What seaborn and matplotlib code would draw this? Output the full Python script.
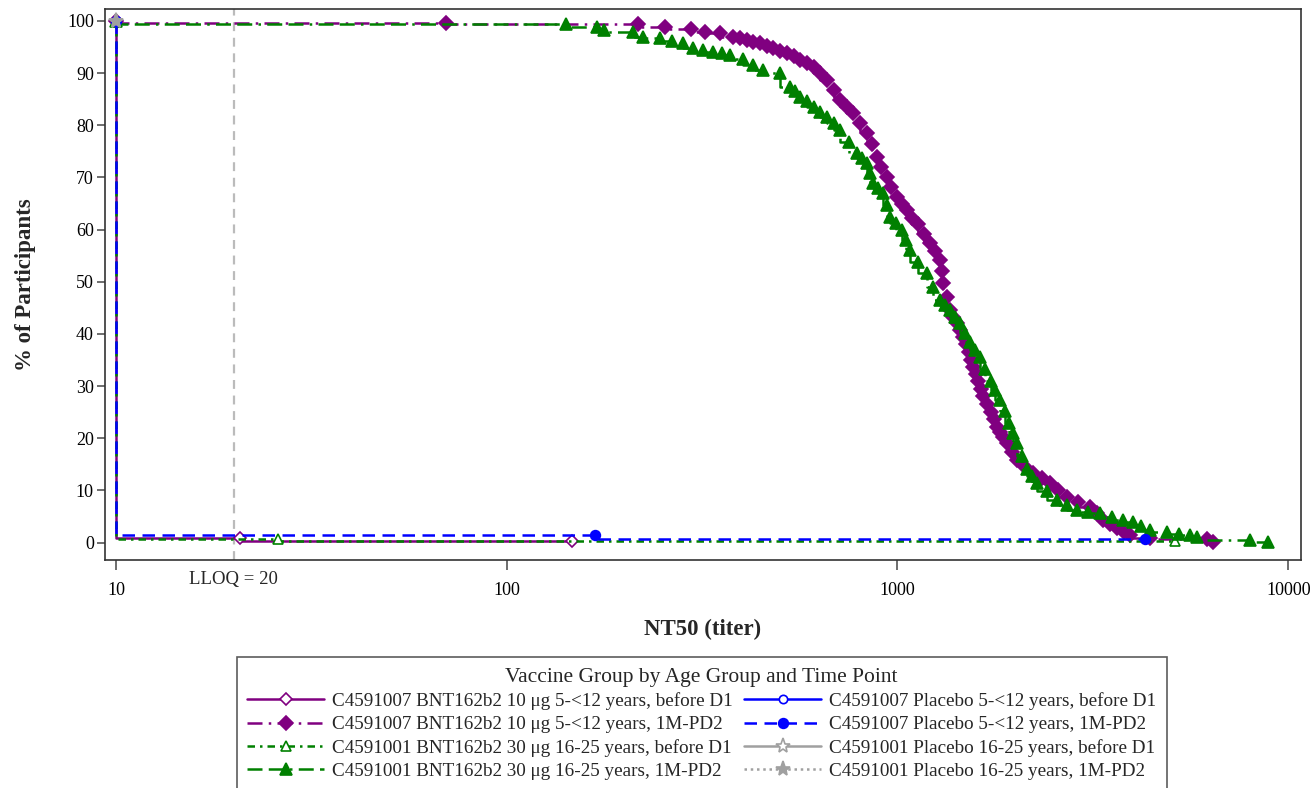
import matplotlib
matplotlib.use("Agg")
import matplotlib.pyplot as plt
import numpy as np
import pandas as pd
import seaborn as sns

# Reverse cumulative distribution of NT50 titers, by vaccine group / age group / time point

# C4591007 BNT162b2 10 ug 5-<12 years, before D1
ped_vax_pre_titer = [10, 20.8, 147]
ped_vax_pre_pct = [100, 0.8, 0.3]

# C4591007 BNT162b2 10 ug 5-<12 years, 1M-PD2
ped_vax_pd2_titer = [10, 70, 217, 254, 297, 322, 352, 380, 395, 411, 428, 445, 463,
                     481, 500, 521, 542, 564, 587, 610, 635, 660, 686, 713, 742, 771,
                     800, 834, 860, 885, 910, 939, 965, 995, 1025, 1057, 1090, 1130,
                     1170, 1211, 1250, 1285, 1298, 1310, 1335, 1364, 1390, 1420, 1448,
                     1475, 1498, 1520, 1542, 1564, 1588, 1610, 1635, 1660, 1695, 1730,
                     1765, 1796, 1830, 1860, 1905, 1960, 2020, 2120, 2223, 2340, 2459,
                     2580, 2711, 2900, 3112, 3240, 3358, 3500, 3640, 3790, 3939, 4430,
                     6190, 6430]
ped_vax_pd2_pct = [100, 99.6, 99.4, 98.9, 98.4, 97.9, 97.6, 97.0, 96.7, 96.4, 96.0,
                   95.7, 95.2, 94.8, 94.3, 93.8, 93.2, 92.5, 91.9, 91.2, 90.0, 88.7,
                   86.8, 84.9, 83.6, 82.3, 80.5, 78.5, 76.5, 74.0, 72.0, 70.1, 68.2,
                   66.3, 65.0, 63.7, 62.3, 61.0, 59.2, 57.4, 55.8, 54.2, 52.0, 49.7,
                   47.0, 44.6, 43.3, 42.0, 40.7, 39.5, 38.0, 36.5, 35.0, 33.7, 32.3,
                   31.0, 29.5, 28.0, 26.5, 25.0, 23.6, 22.2, 21.2, 20.3, 19.0, 17.4,
                   15.8, 14.5, 13.3, 12.3, 11.4, 10.1, 8.8, 7.8, 6.9, 5.6, 4.3, 3.5,
                   2.7, 2.0, 1.4, 0.8, 0.6, 0.15]

# C4591001 BNT162b2 30 ug 16-25 years, before D1
ya_vax_pre_titer = [10, 26, 5130]
ya_vax_pre_pct = [100, 0.7, 0.35]

# C4591001 BNT162b2 30 ug 16-25 years, 1M-PD2
ya_vax_pd2_titer = [10, 142, 170, 177, 211, 223, 247, 265, 283, 300, 318, 337, 355,
                    373, 403, 428, 454, 501, 531, 548, 564, 587, 610, 635, 660, 686,
                    713, 750, 787, 810, 834, 850, 868, 893, 919, 938, 957, 990, 1024,
                    1050, 1077, 1130, 1188, 1235, 1285, 1320, 1360, 1400, 1445, 1485,
                    1530, 1578, 1626, 1678, 1730, 1780, 1832, 1880, 1930, 1975, 2020,
                    2085, 2150, 2210, 2274, 2410, 2560, 2720, 2879, 3080, 3304, 3530,
                    3780, 4010, 4210, 4430, 4890, 5240, 5610, 5840, 7980, 8890]
ya_vax_pd2_pct = [100, 99.4, 98.9, 98.3, 97.9, 97.0, 96.7, 96.2, 95.7, 94.8, 94.5,
                  94.1, 93.8, 93.5, 92.8, 91.6, 90.6, 90.0, 87.4, 86.5, 85.5, 84.6,
                  83.6, 82.6, 81.6, 80.4, 79.1, 76.8, 74.6, 73.7, 72.7, 70.8, 68.9,
                  68.0, 67.0, 64.8, 62.5, 61.2, 60.0, 58.0, 56.1, 53.8, 51.6, 49.0,
                  46.5, 45.5, 44.5, 43.2, 42.0, 40.2, 38.5, 37.0, 35.6, 33.3, 31.0,
                  29.2, 27.3, 25.2, 23.0, 21.0, 19.0, 16.5, 14.0, 12.7, 11.4, 9.8,
                  8.2, 7.2, 6.2, 5.9, 5.6, 4.9, 4.3, 4.0, 3.2, 2.4, 2.1, 1.7, 1.4,
                  1.1, 0.5, 0.15]

# C4591007 Placebo 5-<12 years
ped_pbo_pre_titer = [10]
ped_pbo_pre_pct = [100]
ped_pbo_pd2_titer = [10, 168, 4300]
ped_pbo_pd2_pct = [100, 1.5, 0.7]

# C4591001 Placebo 16-25 years
ya_pbo_pre_titer = [10]
ya_pbo_pre_pct = [100]
ya_pbo_pd2_titer = [10]
ya_pbo_pd2_pct = [100]

labels = [
    "C4591007 BNT162b2 10 \u03bcg 5-<12 years, before D1",
    "C4591007 BNT162b2 10 \u03bcg 5-<12 years, 1M-PD2",
    "C4591001 BNT162b2 30 \u03bcg 16-25 years, before D1",
    "C4591001 BNT162b2 30 \u03bcg 16-25 years, 1M-PD2",
    "C4591007 Placebo 5-<12 years, before D1",
    "C4591007 Placebo 5-<12 years, 1M-PD2",
    "C4591001 Placebo 16-25 years, before D1",
    "C4591001 Placebo 16-25 years, 1M-PD2",
]
series = [
    (ped_vax_pre_titer, ped_vax_pre_pct),
    (ped_vax_pd2_titer, ped_vax_pd2_pct),
    (ya_vax_pre_titer, ya_vax_pre_pct),
    (ya_vax_pd2_titer, ya_vax_pd2_pct),
    (ped_pbo_pre_titer, ped_pbo_pre_pct),
    (ped_pbo_pd2_titer, ped_pbo_pd2_pct),
    (ya_pbo_pre_titer, ya_pbo_pre_pct),
    (ya_pbo_pd2_titer, ya_pbo_pd2_pct),
]
lloq = 20
x_ticks = [10, 100, 1000, 10000]
y_ticks = list(range(0, 101, 10))

PURPLE, GREEN, BLUE, GRAY = "#800080", "#008000", "#0000FF", "#A0A0A0"
styles = [
    dict(color=PURPLE, ls="-", marker="D", ms=6.5, mfc="white"),
    dict(color=PURPLE, ls=(0, (6, 2.5, 1, 2.5)), marker="D", ms=7.5, mfc=PURPLE),
    dict(color=GREEN, ls=(0, (3, 2, 1, 2)), marker="^", ms=7.5, mfc="white"),
    dict(color=GREEN, ls=(0, (6, 2.5, 6, 2.5, 1, 2.5)), marker="^", ms=8, mfc=GREEN),
    dict(color=BLUE, ls="-", marker="o", ms=6, mfc="white"),
    dict(color=BLUE, ls=(0, (5, 3)), marker="o", ms=7, mfc=BLUE),
    dict(color=GRAY, ls="-", marker="*", ms=11, mfc="white"),
    dict(color=GRAY, ls=(0, (1, 1.5)), marker="*", ms=11, mfc=GRAY),
]

sns.set_style("ticks")
plt.rcParams["font.family"] = ["Liberation Serif", "DejaVu Serif"]

fig = plt.figure(figsize=(13.14, 7.88), dpi=100)
ax = fig.add_axes([0.0799, 0.2893, 0.9103, 0.6993])

ax.axvline(lloq, color="#BBBBBB", lw=1.6, ls=(0, (4, 3)), zorder=0.5)

handles = []
for (tx, py), lab, st in zip(series, labels, styles):
    df = pd.DataFrame({"titer": tx, "pct": py})
    sns.lineplot(data=df, x="titer", y="pct", ax=ax, estimator=None, sort=False,
                 drawstyle="steps-pre", color=st["color"], linestyle=st["ls"],
                 linewidth=1.8, marker=st["marker"], markersize=st["ms"],
                 markerfacecolor=st["mfc"], markeredgecolor=st["color"],
                 markeredgewidth=1.2, legend=False)
    line = ax.lines[-1]
    line.set_label(lab)
    handles.append(line)

ax.set_xscale("log")
ax.set_xlim(9.37, 10790)
ax.set_ylim(-3.36, 102.3)
ax.set_xticks(x_ticks)
ax.set_xticklabels([str(t) for t in x_ticks])
ax.xaxis.set_minor_locator(matplotlib.ticker.NullLocator())
ax.set_yticks(y_ticks)
ax.set_yticklabels([str(t) for t in y_ticks])
ax.tick_params(axis="both", direction="out", length=7, width=1.2, color="#555555",
               labelsize=13, labelcolor="black")
ax.tick_params(axis="x", pad=9)
ax.tick_params(axis="y", length=6, pad=2)
for sp in ax.spines.values():
    sp.set_visible(True)
    sp.set_color("#333333")
    sp.set_linewidth(1.2)

ax.set_xlabel("NT50 (titer)", fontsize=16.5, fontweight="bold", labelpad=14)
ax.set_ylabel("% of Participants", fontsize=16.5, fontweight="bold", labelpad=22)

ax.annotate("LLOQ = 20", xy=(lloq, 0), xycoords=("data", "axes fraction"),
            xytext=(0, -8), textcoords="offset points", ha="center", va="top",
            fontsize=13.5)

leg = fig.legend(handles=handles, labels=labels, loc="upper center",
                 bbox_to_anchor=(0.534, 0.1662), ncol=2, fontsize=13.8,
                 title="Vaccine Group by Age Group and Time Point",
                 title_fontsize=15.5, frameon=True, fancybox=False,
                 edgecolor="#333333", handlelength=4.0, handletextpad=0.42,
                 columnspacing=0.6, labelspacing=0.3, borderpad=0.55,
                 borderaxespad=0, numpoints=1)
leg.get_frame().set_linewidth(1.2)

fig.savefig("out.png", dpi=100)
